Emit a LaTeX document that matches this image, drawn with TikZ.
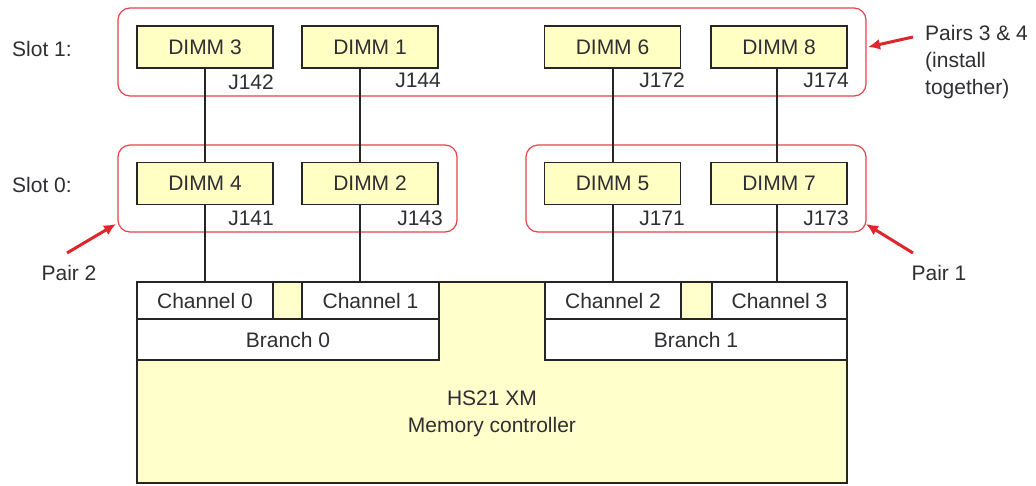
\documentclass[tikz,border=0pt]{standalone}
\usepackage{fontspec}
\setmainfont{Liberation Sans}
\usetikzlibrary{arrows.meta}
\definecolor{dimmfill}{HTML}{FFFFC4}
\definecolor{ctrlfill}{HTML}{FFFFCC}
\definecolor{grpred}{HTML}{E8404A}
\definecolor{arrred}{HTML}{E0262B}
\definecolor{txt}{HTML}{2E2E33}
\begin{document}
\begin{tikzpicture}[x=1pt,y=-1pt,
  every node/.style={font=\fontsize{21}{27}\selectfont, text=txt},
  dimm/.style={draw=black!85, line width=1.4pt, fill=dimmfill, minimum width=136pt, minimum height=42pt, inner sep=0pt},
  cell/.style={draw=black!85, line width=1.4pt, fill=white, minimum height=37pt, inner sep=0pt},
  branchbox/.style={draw=black!85, line width=1.4pt, fill=white, minimum width=302pt, minimum height=41pt, inner sep=0pt},
  group/.style={draw=grpred, line width=1.2pt, rounded corners=12pt},
  wire/.style={draw=black!85, line width=1.3pt},
  pointer/.style={draw=arrred, line width=3pt, -{Latex[length=12pt,width=11pt]}},
  jlabel/.style={anchor=east, inner sep=0pt},
  plain/.style={inner sep=0pt}
]
\useasboundingbox (0,0) rectangle (1036,485);

% memory controller body
\node[draw=black!85, line width=1.4pt, fill=ctrlfill, minimum width=710pt, minimum height=201pt, inner sep=0pt] (mc) at (492,382.5) {};
\node[plain, align=center] (mctext) at (492,414) {HS21 XM\\Memory controller};

% channels and branches
\node[cell, minimum width=136pt] (ch0) at (205,300.5) {Channel 0};
\node[cell, minimum width=137pt] (ch1) at (370.5,300.5) {Channel 1};
\node[branchbox] (br0) at (288,339.5) {Branch 0};
\node[cell, minimum width=136pt] (ch2) at (613,300.5) {Channel 2};
\node[cell, minimum width=135pt] (ch3) at (779.5,300.5) {Channel 3};
\node[branchbox] (br1) at (696,339.5) {Branch 1};

% groups
\draw[group] (118,8) rectangle (866,96);
\draw[group] (118,145) rectangle (457,232);
\draw[group] (526,145) rectangle (866,232);
\coordinate (g34) at (868,47);
\coordinate (g2) at (116,224);
\coordinate (g1) at (866,224);

% DIMMs
\node[dimm] (d3) at (205,47) {DIMM 3};
\node[dimm] (d1) at (370,47) {DIMM 1};
\node[dimm] (d6) at (612.5,47) {DIMM 6};
\node[dimm] (d8) at (779,47) {DIMM 8};
\node[dimm] (d4) at (205,183.5) {DIMM 4};
\node[dimm] (d2) at (370,183.5) {DIMM 2};
\node[dimm] (d5) at (612.5,183.5) {DIMM 5};
\node[dimm] (d7) at (779,183.5) {DIMM 7};

% wiring
\draw[wire] (d3.south) -- (d4.north);
\draw[wire] (d4.south) -- (d4.south |- ch0.north);
\draw[wire] ([xshift=-10pt]d1.south) -- ([xshift=-10pt]d2.north);
\draw[wire] ([xshift=-10pt]d2.south) -- ([xshift=-10pt]d2.south |- ch1.north);
\draw[wire] ([xshift=0.5pt]d6.south) -- ([xshift=0.5pt]d5.north);
\draw[wire] ([xshift=0.5pt]d5.south) -- ([xshift=0.5pt]d5.south |- ch2.north);
\draw[wire] ([xshift=-2pt]d8.south) -- ([xshift=-2pt]d7.north);
\draw[wire] ([xshift=-2pt]d7.south) -- ([xshift=-2pt]d7.south |- ch3.north);

% connector labels
\node[jlabel] (j142) at (274,82) {J142};
\node[jlabel] (j144) at (441,80) {J144};
\node[jlabel] (j172) at (685,80) {J172};
\node[jlabel] (j174) at (849,80) {J174};
\node[jlabel] (j141) at (274,218) {J141};
\node[jlabel] (j143) at (443,218) {J143};
\node[jlabel] (j171) at (685,218) {J171};
\node[jlabel] (j173) at (849,218) {J173};

% side labels
\node[plain, anchor=west] (slot1) at (12,49) {Slot 1:};
\node[plain, anchor=west] (slot0) at (12,185) {Slot 0:};
\node[plain, anchor=west, align=left] (p34) at (925,62) {Pairs 3 \& 4\\(install\\together)};
\node[plain] (p2) at (69,273) {Pair 2};
\node[plain] (p1) at (939,273) {Pair 1};

% pointers
\coordinate (t34) at (913,37);
\coordinate (t2) at (67,253);
\coordinate (t1) at (913,253);
\draw[pointer] (t34) -- (g34);
\draw[pointer] (t2) -- (g2);
\draw[pointer] (t1) -- (g1);
\end{tikzpicture}
\end{document}
